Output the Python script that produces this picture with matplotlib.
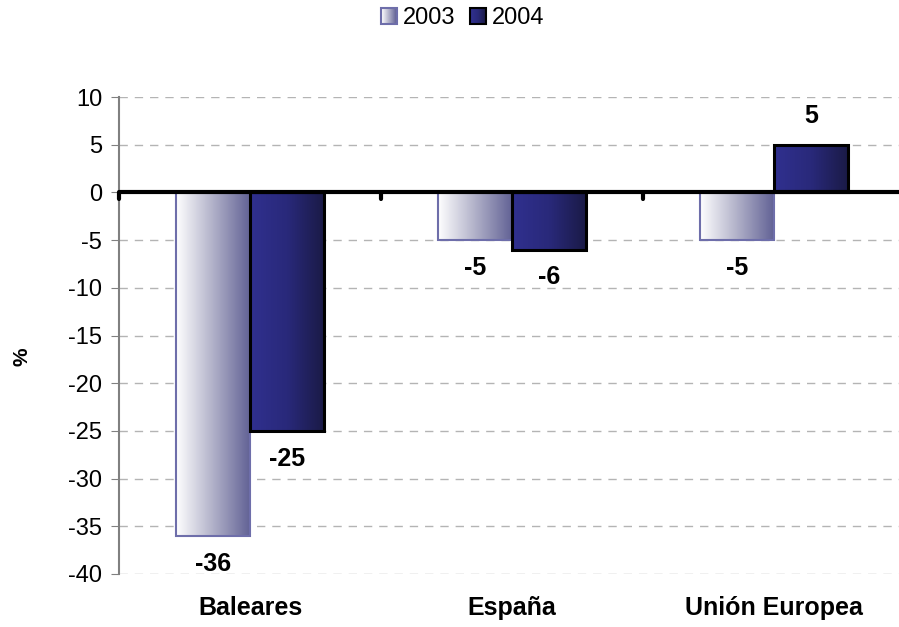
import numpy as np
import matplotlib
matplotlib.use("Agg")
import matplotlib.pyplot as plt
from matplotlib.colors import LinearSegmentedColormap
from matplotlib.patches import Rectangle
from matplotlib.legend_handler import HandlerBase

# données
categories = ["Baleares", "España", "Unión Europea"]
series = ["2003", "2004"]
val_2003 = [-36, -5, -5]
val_2004 = [-25, -6, 5]

plt.rcParams['font.family'] = ['Liberation Sans', 'DejaVu Sans']
plt.rcParams['axes.unicode_minus'] = False

# dégradés des barres
cmap_2003 = LinearSegmentedColormap.from_list("c2003", ["#ffffff", "#b0b0c8", "#606094"])
cmap_2004 = LinearSegmentedColormap.from_list("c2004", ["#30308f", "#29297a", "#1a1a45"])
cmaps = [cmap_2003, cmap_2004]
edges = ["#6e6eaa", "#000000"]
edge_lw = [1.5, 2.2]

fig = plt.figure(figsize=(8.99, 6.27), dpi=100)
ax = fig.add_axes([119/899, 53/627, 1 - 119/899, 477/627])

largeur = 0.284
grad = np.linspace(0, 1, 256).reshape(1, -1)
x = np.arange(len(categories))
for j, vals in enumerate([val_2003, val_2004]):
    for i, v in enumerate(vals):
        x0 = x[i] - largeur + j * largeur
        ax.imshow(grad, extent=[x0, x0 + largeur, min(0, v), max(0, v)],
                  aspect='auto', cmap=cmaps[j], zorder=2, interpolation='bilinear')
        ax.add_patch(Rectangle((x0, 0), largeur, v, fill=False,
                               edgecolor=edges[j], linewidth=edge_lw[j], zorder=3))
        # étiquettes de valeur
        if v >= 0:
            ax.text(x0 + largeur/2, v + 3.0, str(v), ha='center', va='center',
                    fontsize=18, fontweight='bold', zorder=4)
        else:
            ax.text(x0 + largeur/2, v - 2.9, str(v), ha='center', va='center',
                    fontsize=18, fontweight='bold', zorder=4)

ax.set_xlim(-0.5, -0.5 + 780/262)
ax.set_ylim(-40, 10)
ax.set_yticks(np.arange(-40, 11, 5))
for t in np.arange(-40, 11, 5):
    if t != 0:
        ax.axhline(t, color='#b4b4b4', linestyle=(0, (6, 5)), linewidth=1, zorder=1)
ax.axhline(0, color='black', linewidth=3, zorder=5)
# petits traits entre catégories
for b in [-0.5, 0.5, 1.5]:
    ax.plot([b, b], [0, -0.7], color='black', linewidth=3, zorder=5,
            solid_capstyle='round', clip_on=False)

ax.set_xticks(x)
ax.set_xticklabels(categories, fontsize=18, fontweight='bold')
ax.tick_params(axis='x', length=0, pad=16)
ax.tick_params(axis='y', length=6, color='#808080', labelsize=17, pad=6)
for s in ['top', 'right', 'bottom']:
    ax.spines[s].set_visible(False)
ax.spines['left'].set_color('#808080')
ax.spines['left'].set_linewidth(1.5)
ax.set_facecolor('white')

fig.text(22/899, 1 - 357/627, "%", rotation=90, ha='center', va='center',
         fontsize=15, fontweight='bold')


# légende avec carrés en dégradé
class HandlerGrad(HandlerBase):
    def create_artists(self, legend, orig_handle, xdescent, ydescent, width, height, fontsize, trans):
        cm, ec = orig_handle
        s = height * 0.95
        x0 = -xdescent + width - s
        y0 = -ydescent + (height - s) / 2
        arts = []
        n = 16
        for k in range(n):
            arts.append(Rectangle((x0 + k * s / n, y0), s / n, s, facecolor=cm(k / (n - 1)),
                                  edgecolor='none', transform=trans))
        arts.append(Rectangle((x0, y0), s, s, fill=False, edgecolor=ec, linewidth=1.5,
                              transform=trans))
        return arts


handles = [(cmaps[0], edges[0]), (cmaps[1], edges[1])]
fig.legend(handles, series, handler_map={tuple: HandlerGrad()},
           loc='center', bbox_to_anchor=(461/899, 1 - 18/627), ncol=2, frameon=False,
           fontsize=17, handlelength=0.8, handletextpad=0.25, columnspacing=0.5)

fig.savefig("out.png", dpi=100, facecolor='white')
